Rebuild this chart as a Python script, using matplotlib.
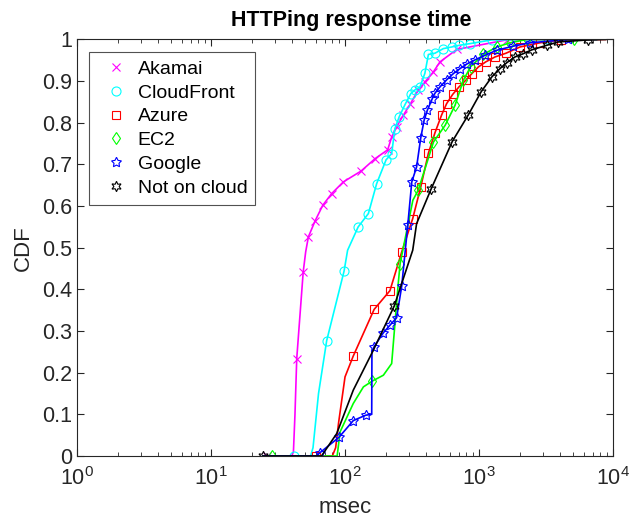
import numpy as np
import matplotlib.pyplot as plt

plt.rcParams['font.family'] = ['Liberation Sans', 'DejaVu Sans']

names = ["Akamai", "CloudFront", "Azure", "EC2", "Google", "Not on cloud"]

# marker positions (msec, CDF)
akamai_mx = [25.9, 43.4, 48.5, 53.0, 59.4, 67.9, 79.1, 96.6, 131, 167, 207, 222, 242, 271, 304, 350, 393, 454, 508, 678, 1600]
akamai_my = [0, 0.234, 0.442, 0.526, 0.564, 0.602, 0.63, 0.658, 0.684, 0.714, 0.735, 0.766, 0.791, 0.818, 0.844, 0.878, 0.898, 0.922, 0.946, 0.976, 0.999]
cloudfront_mx = [41.5, 72.6, 97.9, 124.7, 148.6, 171.4, 201.4, 221.8, 234.4, 252.9, 279.3, 308.3, 331.1, 360.6, 392.6, 416.9, 466.7, 538.3, 622.3, 707.9, 851.1, 1239, 3184]
cloudfront_my = [0, 0.277, 0.444, 0.55, 0.582, 0.654, 0.711, 0.726, 0.786, 0.815, 0.844, 0.87, 0.879, 0.886, 0.919, 0.964, 0.967, 0.978, 0.982, 0.986, 0.99, 0.999, 1.0]
azure_mx = [60.7, 114.6, 164.1, 215.3, 263.6, 318.4, 365.6, 416.9, 466.7, 523.6, 570.2, 632.4, 704.7, 792.5, 879, 984, 1114, 1309, 1581, 2014, 2838, 4064]
azure_my = [0, 0.24, 0.352, 0.397, 0.49, 0.57, 0.646, 0.727, 0.776, 0.819, 0.846, 0.868, 0.886, 0.902, 0.918, 0.934, 0.946, 0.958, 0.967, 0.982, 0.992, 0.999]
ec2_mx = [28.2, 159.2, 256.4, 349.9, 455, 556, 659, 760, 863, 1072, 1349, 1694, 2254, 5093]
ec2_my = [0, 0.18, 0.462, 0.638, 0.754, 0.794, 0.842, 0.902, 0.935, 0.964, 0.982, 0.992, 1.0, 1.0]
google_mx = [64.7, 89.7, 114.6, 141.9, 163.7, 192.3, 215.3, 241.5, 263.6, 292.4, 313.3, 340.4, 365.6, 387.3, 409.3, 445.7, 466.7, 508.2, 570.2, 639.7, 717.8, 805.4, 929, 1102, 1349, 1795, 2393, 4613]
google_my = [0.008, 0.045, 0.085, 0.098, 0.262, 0.296, 0.314, 0.332, 0.408, 0.554, 0.658, 0.694, 0.764, 0.806, 0.83, 0.858, 0.871, 0.886, 0.903, 0.918, 0.93, 0.941, 0.951, 0.962, 0.974, 0.984, 0.992, 1.0]
other_mx = [24.2, 231.7, 435.5, 628.1, 827.9, 1030, 1239, 1426, 1600, 1845, 2133, 2460, 3184, 3882, 6516]
other_my = [0, 0.36, 0.64, 0.755, 0.819, 0.874, 0.91, 0.93, 0.944, 0.958, 0.966, 0.975, 0.986, 0.994, 0.999]

# extra points that shape the lines between markers
akamai_lx = [24.2, 39.8, 41.0, 42.1, 50.6, 4943]
akamai_ly = [0, 0, 0.01, 0.1, 0.49, 1.0]
cloudfront_lx = [24.2, 55.1, 57.4, 63.1, 104, 6209]
cloudfront_ly = [0, 0, 0.02, 0.15, 0.494, 1.0]
azure_lx = [24.2, 80.0, 84.7, 89.1, 99.5, 8770]
azure_ly = [0, 0, 0.02, 0.08, 0.19, 1.0]
ec2_lx = [24.2, 86.9, 91.4, 114.6, 136.5, 192.3, 221.8, 248.3, 319.2, 7499]
ec2_ly = [0, 0, 0.058, 0.126, 0.166, 0.194, 0.222, 0.414, 0.614, 1.0]
google_lx = [24.2, 60.7, 157.4, 158, 7499]
google_ly = [0, 0, 0.1, 0.25, 1.0]
other_lx = [66.4, 86.3, 114.6, 161.8, 318.4, 340.4, 8770]
other_ly = [0, 0.054, 0.158, 0.254, 0.494, 0.558, 1.0]

series = [
    (akamai_mx, akamai_my, akamai_lx, akamai_ly, (1, 0, 1), 'x'),
    (cloudfront_mx, cloudfront_my, cloudfront_lx, cloudfront_ly, (0, 1, 1), 'o'),
    (azure_mx, azure_my, azure_lx, azure_ly, (1, 0, 0), 's'),
    (ec2_mx, ec2_my, ec2_lx, ec2_ly, (0, 1, 0), 'd'),
    (google_mx, google_my, google_lx, google_ly, (0, 0, 1), (5, 1, 0)),
    (other_mx, other_my, other_lx, other_ly, (0, 0, 0), (6, 1, 0)),
]
msizes = [6, 6.5, 5.5, 6.5, 7.5, 7.5]

fig = plt.figure(figsize=(6.38, 5.22), dpi=100)
ax = fig.add_axes([0.1212, 0.1264, 0.8401, 0.798])

for (mx, my, lx, ly, col, mk), name, ms in zip(series, names, msizes):
    x = np.array(mx + lx, dtype=float)
    y = np.array(my + ly, dtype=float)
    order = np.lexsort((y, x))
    ax.plot(x[order], y[order], color=col, lw=1.2)
    ax.plot(mx, my, ls='none', marker=mk, color=col, ms=ms, mfc='none', mew=0.8, label=name)

ax.set_xscale('log')
ax.set_xlim(1, 1e4)
ax.set_ylim(0, 1)
ax.set_yticks(np.arange(0, 1.01, 0.1))
ax.set_yticklabels(['0', '0.1', '0.2', '0.3', '0.4', '0.5', '0.6', '0.7', '0.8', '0.9', '1'])
ax.tick_params(which='both', direction='in', top=True, right=True, colors='0.15', labelsize=15.5)
ax.tick_params(which='major', length=5)
ax.tick_params(which='minor', length=3)
ax.tick_params(axis='x', pad=8)
for sp in ax.spines.values():
    sp.set_color('0.15')
    sp.set_linewidth(0.8)

ax.set_xlabel('msec', fontsize=16, color='0.15', labelpad=5)
ax.set_ylabel('CDF', fontsize=16, color='0.15', labelpad=6)
ax.set_title('HTTPing response time', fontsize=15.5, fontweight='bold', pad=10, x=0.512)

leg = ax.legend(loc='upper left', bbox_to_anchor=(0.022, 0.969), borderaxespad=0,
                fontsize=14, frameon=True, fancybox=False, handlelength=2.0,
                handletextpad=0.1, labelspacing=0.32, borderpad=0.4)
leg.get_frame().set_edgecolor('0.15')
leg.get_frame().set_linewidth(0.8)

fig.savefig('out.png', dpi=100)
